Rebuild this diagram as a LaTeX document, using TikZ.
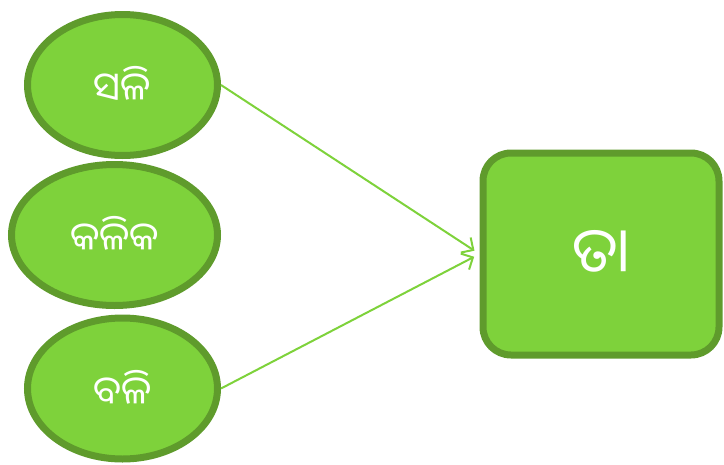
\documentclass[tikz,border=0pt]{standalone}
\usepackage{fontspec}
\newfontfamily\oriya[Script=Oriya]{Noto Sans Oriya UI}
\usetikzlibrary{shapes.geometric,arrows.meta}
\definecolor{fillg}{HTML}{7ED23B}
\definecolor{edgeg}{HTML}{5F9B2C}
\tikzset{
  ell/.style={ellipse, draw=edgeg, fill=fillg, line width=7pt, inner sep=0pt, text=white, font=\oriya\fontsize{39}{44}\selectfont},
  bigbox/.style={rectangle, rounded corners=28pt, draw=edgeg, fill=fillg, line width=7pt, inner sep=0pt, text=white, font=\oriya\fontsize{62}{70}\selectfont},
  conn/.style={draw=fillg, line width=2pt, -{Straight Barb[length=9pt,width=18pt,line width=2pt]}}
}
\begin{document}
\begin{tikzpicture}[x=1pt,y=-1pt]
\useasboundingbox (0,0) rectangle (724,464);
\node[ell, minimum width=190pt, minimum height=141pt] (e1) at (122.5,85) {ସଳି};
\node[ell, minimum width=206pt, minimum height=141pt] (e2) at (114.5,235) {କଳିକ};
\node[ell, minimum width=190pt, minimum height=141pt] (e3) at (122.5,388.5) {ବଳି};
\node[bigbox, minimum width=236pt, minimum height=202pt] (box) at (601,254) {ତା};
\draw[conn, shorten >=6pt] (e1.east) -- (box.west);
\draw[conn, shorten >=6pt] (e3.east) -- (box.west);
\end{tikzpicture}
\end{document}
